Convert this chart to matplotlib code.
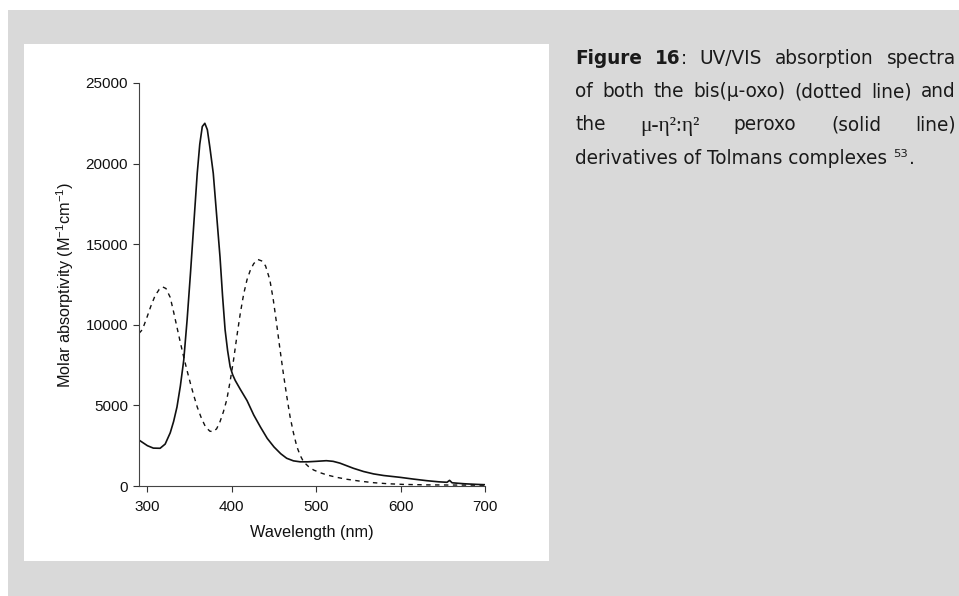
import matplotlib
matplotlib.use("Agg")
import matplotlib.pyplot as plt
from matplotlib.patches import Rectangle

plt.rcParams["font.family"] = ["Liberation Sans", "DejaVu Sans"]
plt.rcParams["mathtext.fontset"] = "custom"
plt.rcParams["mathtext.rm"] = "Liberation Sans"
plt.rcParams["mathtext.it"] = "Liberation Sans:italic"

# Peroxo complex (solid line): wavelength (nm), molar absorptivity (M^-1 cm^-1)
peroxo_nm = [290, 300, 307, 315, 321, 327, 331, 335, 339, 343, 347, 351, 355, 359,
             362, 365, 368, 371, 374, 378, 382, 386, 389, 392, 395, 398, 401, 404,
             410, 418, 426, 434, 442, 450, 458, 465, 473, 481, 490, 500, 512, 520,
             528, 536, 544, 556, 568, 580, 599, 615, 631, 645, 655, 658, 661, 675,
             690, 700]
peroxo_eps = [2850, 2500, 2350, 2340, 2600, 3300, 4000, 4900, 6200, 7800, 10300,
              13200, 16300, 19400, 21200, 22300, 22500, 22100, 21000, 19400, 16800,
              14200, 11800, 9700, 8400, 7400, 6900, 6550, 6000, 5300, 4400, 3650,
              2950, 2420, 2000, 1720, 1560, 1500, 1500, 1530, 1570, 1530, 1420, 1260,
              1100, 900, 750, 650, 540, 430, 330, 260, 230, 350, 200, 140, 100, 80]

# Bis(mu-oxo) complex (dotted line)
bisoxo_nm = [290, 294, 299, 304, 309, 314, 318, 322, 327, 331, 335, 339, 343, 347,
             351, 355, 359, 364, 369, 374, 378, 382, 386, 390, 394, 398, 402, 406,
             410, 414, 418, 422, 426, 431, 436, 440, 445, 449, 453, 457, 461, 465,
             469, 473, 477, 481, 485, 491, 497, 505, 513, 525, 536, 552, 568, 585,
             603, 630, 660, 700]
bisoxo_eps = [9470, 9700, 10400, 11150, 11800, 12200, 12350, 12250, 11700, 10800,
              9850, 8900, 8000, 7150, 6350, 5600, 4900, 4200, 3650, 3400, 3370, 3550,
              3990, 4600, 5350, 6500, 7800, 9300, 10700, 11900, 12800, 13400, 13800,
              14050, 13950, 13650, 12800, 11600, 10100, 8500, 7000, 5600, 4300, 3300,
              2450, 1900, 1500, 1200, 990, 820, 680, 530, 420, 300, 205, 140, 100, 70,
              60, 50]

x_ticks = [300, 400, 500, 600, 700]
y_ticks = [0, 5000, 10000, 15000, 20000, 25000]

W, H = 959, 596
fig = plt.figure(figsize=(W / 100, H / 100), dpi=100)
fig.patch.set_facecolor("white")


def fx(px):
    return px / W


def fy(py):
    return 1 - py / H


# page background and white figure panel
fig.patches.append(Rectangle((fx(8), 0), fx(W - 8), 1 - 10 / H,
                             transform=fig.transFigure, facecolor="#d9d9d9",
                             edgecolor="none", zorder=-2))
fig.patches.append(Rectangle((fx(24), fy(561)), fx(525), 517 / H,
                             transform=fig.transFigure, facecolor="white",
                             edgecolor="none", zorder=-1))

ax = fig.add_axes([fx(139), fy(486), fx(485 - 139), (486 - 83) / H])
ax.patch.set_alpha(0)
ax.plot(peroxo_nm, peroxo_eps, color="#111111", lw=1.2, solid_joinstyle="round")
ax.plot(bisoxo_nm, bisoxo_eps, color="#111111", lw=1.0, linestyle=(0, (3.2, 3.2)))

ax.set_xlim(290, 700)
ax.set_ylim(0, 25000)
ax.set_xticks(x_ticks)
ax.set_yticks(y_ticks)
ax.tick_params(axis="both", labelsize=11, length=4, width=0.8, color="#333333",
               labelcolor="#111111")
ax.tick_params(axis="x", pad=6)
ax.tick_params(axis="y", pad=4)
for side in ("top", "right"):
    ax.spines[side].set_visible(False)
for side in ("left", "bottom"):
    ax.spines[side].set_color("#444444")
    ax.spines[side].set_linewidth(0.8)
ax.set_xlabel("Wavelength (nm)", fontsize=11.7, color="#111111", labelpad=8)
ax.set_ylabel(r"Molar absorptivity (M$^{\mathregular{-1}}$cm$^{\mathregular{-1}}$)",
              fontsize=11.7, color="#111111", labelpad=7)

# caption block, justified between left and right margins
cap_size = 13.35
cap_color = "#1a1a1a"
left_px, right_px = 575, 956
baselines = [63.5, 97, 130.5, 164]
sans = ["DejaVu Sans"]
serif = ["Liberation Serif", "DejaVu Serif"]

lines = [
    [[("Figure", sans, "bold", cap_size)],
     [("16", sans, "bold", cap_size), (":", sans, "normal", cap_size)],
     [("UV/VIS", sans, "normal", cap_size)], [("absorption", sans, "normal", cap_size)],
     [("spectra", sans, "normal", cap_size)]],
    [[(w, sans, "normal", cap_size)] for w in
     ["of", "both", "the", "bis(\u00b5-oxo)", "(dotted", "line)", "and"]],
    [[("the", sans, "normal", cap_size)],
     [("\u03bc-\u03b7\u00b2:\u03b7\u00b2", serif, "normal", cap_size + 2)],
     [("peroxo", sans, "normal", cap_size)], [("(solid", sans, "normal", cap_size)],
     [("line)", sans, "normal", cap_size)]],
]

fig.canvas.draw()
renderer = fig.canvas.get_renderer()

for words, base in zip(lines, baselines):
    placed = []
    widths = []
    for word in words:
        runs = []
        wsum = 0
        for txt, fam, weight, size in word:
            t = fig.text(0, fy(base), txt, family=fam, fontweight=weight,
                         fontsize=size, color=cap_color, va="baseline",
                         ha="left")
            w = t.get_window_extent(renderer).width
            runs.append((t, wsum))
            wsum += w
        placed.append(runs)
        widths.append(wsum)
    gap = (right_px - left_px - sum(widths)) / (len(words) - 1)
    x = left_px
    for runs, w in zip(placed, widths):
        for t, off in runs:
            t.set_x(fx(x + off))
        x += w + gap

last = fig.text(fx(left_px), fy(baselines[3]), "derivatives of Tolmans complexes ",
                family=sans, fontsize=cap_size, color=cap_color, va="baseline",
                ha="left")
lw_ = last.get_window_extent(renderer).width
sup = fig.text(fx(left_px + lw_), fy(baselines[3] - 7), "53", family=sans,
               fontsize=cap_size * 0.62, color=cap_color, va="baseline", ha="left")
sw = sup.get_window_extent(renderer).width
fig.text(fx(left_px + lw_ + sw + 1), fy(baselines[3]), ".", family=sans,
         fontsize=cap_size, color=cap_color, va="baseline", ha="left")

fig.savefig("out.png", dpi=100, facecolor=fig.get_facecolor())
